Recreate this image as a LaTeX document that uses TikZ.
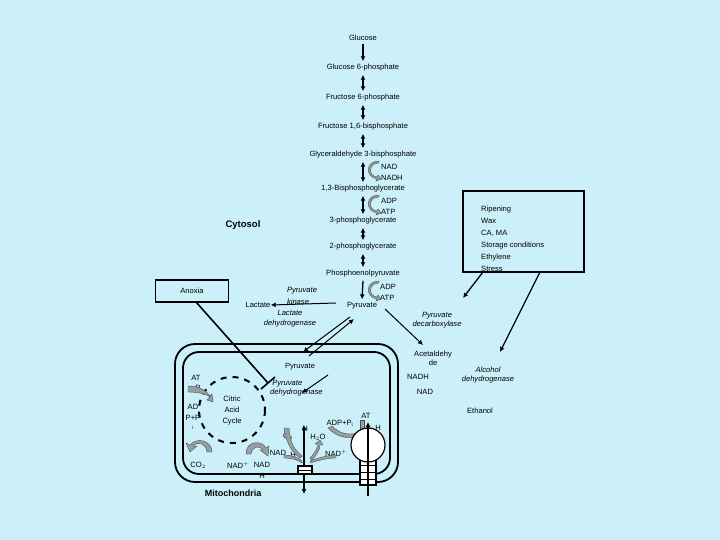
\documentclass[tikz,border=0pt]{standalone}
\usepackage{fontspec}
\setmainfont{Liberation Sans}
\usetikzlibrary{arrows.meta,calc}
\definecolor{bg}{RGB}{204,240,250}
\definecolor{ga}{RGB}{150,160,160}
\begin{document}
\begin{tikzpicture}[x=1pt,y=-1pt,
  t/.style={font=\fontsize{7.6}{8.6}\selectfont,inner sep=0pt},
  ti/.style={t,font=\fontsize{7.6}{8.6}\selectfont\itshape},
  sa/.style={-{Latex[length=5pt,width=5pt]},line width=1.3pt},
  da/.style={{Latex[length=5pt,width=5pt]}-{Latex[length=5pt,width=5pt]},line width=1.3pt},
  ln/.style={line width=1.6pt},
  gar/.style={draw=black!70,fill=ga,line width=0.4pt}]
\useasboundingbox (0,0) rectangle (720,540);
\fill[bg] (0,0) rectangle (720,540);
% glycolysis
\node[t] (g1) at (363,38) {Glucose};
\node[t] (g2) at (363,68) {Glucose 6-phosphate};
\node[t] (g3) at (363,98) {Fructose 6-phosphate};
\node[t] (g4) at (363,127) {Fructose 1,6-bisphosphate};
\node[t] (g5) at (363,155) {Glyceraldehyde 3-bisphosphate};
\node[t] (g6) at (363,189) {1,3-Bisphosphoglycerate};
\node[t] (g7) at (363,221) {3-phosphoglycerate};
\node[t] (g8) at (363,247) {2-phosphoglycerate};
\node[t] (g9) at (363,274) {Phosphoenolpyruvate};
\node[t] (pyr) at (362,306) {Pyruvate};
\draw[sa] ([yshift=-3pt]g1.south) -- ([yshift=3pt]g2.north);
\foreach \a/\b in {g2/g3,g3/g4,g4/g5,g5/g6,g6/g7,g7/g8,g8/g9}
  \draw[da] ([yshift=-3pt]\a.south) -- ([yshift=3pt]\b.north);
\draw[sa] ([yshift=-3pt]g9.south) -- ([yshift=3pt]pyr.north);
% side cofactors
\node[t,anchor=west] (nad) at (381,167) {NAD};
\node[t,anchor=west] (nadh) at (381,178) {NADH};
\node[t,anchor=west] (adp1) at (381,201) {ADP};
\node[t,anchor=west] (atp1) at (381,212) {ATP};
\node[t,anchor=west] (adp2) at (380,287) {ADP};
\node[t,anchor=west] (atp2) at (380,298) {ATP};
\foreach \y in {167,201,287}{
 \draw[gar] (379,\y-4) .. controls (368,\y-4) and (368,\y+9) .. (377,\y+10) -- (378,\y+8) -- (381,\y+12) -- (376,\y+14) -- (377,\y+12)
   .. controls (365,\y+10) and (365,\y-6) .. (379,\y-6) -- cycle;}
\node[t,font=\fontsize{9.5}{10}\selectfont\bfseries] (cyt) at (243,225) {Cytosol};
% lactate
\node[t] (lac) at (258,305) {Lactate};
\draw[sa,line width=1pt] (336,303) -- (lac.east);
\node[ti] (pk1) at (302,291) {Pyruvate};
\node[ti] (pk2) at (298,302) {kinase};
\node[ti] (ld1) at (290,313) {Lactate};
\node[ti] (ld2) at (290,324) {dehydrogenase};
% anoxia
\node[t,draw,ln,minimum width=73pt,minimum height=22pt] (anox) at (192,291) {Anoxia};
\coordinate (tb) at (268,383);
\draw[ln] (196,302) -- (tb);
\draw[ln] ($(tb)+(-7,6)$) -- ($(tb)+(7,-6)$);
% ripening box
\node[draw,ln,minimum width=121pt,minimum height=81pt] (rip) at (523.5,231.5) {};
\node[t,anchor=west,align=left,font=\fontsize{7.6}{12}\selectfont] at (481,239) {Ripening\\Wax\\CA, MA\\Storage conditions\\Ethylene\\Stress};
\coordinate (r1) at (463,298);
\coordinate (r2) at (500,352);
\draw[sa] (483,272) -- (r1);
\draw[sa] (540,272) -- (r2);
% pyruvate decarboxylase
\node[t,align=center] (acet) at (433,358) {Acetaldehy\\de};
\draw[sa,line width=1pt] (385,309) -- (423,345);
\node[ti,align=center] (pdc) at (437,320) {Pyruvate\\decarboxylase};
\node[t] (nadh2) at (418,377) {NADH};
\node[t] (nad2) at (425,392) {NAD};
\node[ti,align=center] (adh) at (488,375) {Alcohol\\dehydrogenase};
\node[t] (eth) at (480,411) {Ethanol};
% transport double arrow
\coordinate (p1) at (352,318);
\coordinate (p2) at (304,354);
\draw[sa,line width=1pt] ($(p2)+(5,2)$) -- ($(p1)+(2,1)$);
\draw[sa,line width=1pt] ($(p1)+(-2,-1)$) -- ($(p2)+(-1,-2)$);
% mitochondria
\draw[line width=1.8pt,rounded corners=20pt] (175,344) rectangle (398,482);
\draw[line width=1.8pt,rounded corners=16pt] (183,352) rectangle (390,474);
\node[t,font=\fontsize{9}{10}\selectfont\bfseries] (mito) at (233,493) {Mitochondria};
\node[t] (pyr2) at (300,367) {Pyruvate};
\node[ti,align=left,anchor=west] (pdh) at (270,388) {\ Pyruvate\\dehydrogenase};
\draw[sa,line width=1pt] (328,375) -- (302,393);
\draw[line width=2pt,dash pattern=on 6pt off 6pt] (232,410) circle (33);
\node[t,align=center,font=\fontsize{7.6}{11}\selectfont] (cac) at (232,411) {Citric\\Acid\\Cycle};
\node[t] at (196,378) {AT};
\node[t] at (198,388) {P};
\node[t] at (193,407) {AD};
\node[t] at (193,418) {P+P};
\node[t,font=\fontsize{5}{6}\selectfont] at (193,428) {i};
\node[t] at (198,465) {CO$_2$};
\node[t] at (238,465) {NAD$^+$};
\node[t] at (262,465) {NAD};
\node[t] at (262,476) {H};
\node[t] at (288,436) {O$_2$};
\node[t] at (305,429) {H};
\node[t] at (318,437) {H$_2$O};
\node[t] at (340,423) {ADP+P$_{\rm i}$};
\node[t] at (366,416) {AT};
\node[t] at (378,428) {H};
\node[t] at (278,453) {NAD};
\node[t] at (293,455) {H};
\node[t] at (336,453) {NAD$^+$};
% gray arrows
\draw[gar] (188,392) .. controls (200,392) and (208,395) .. (210,397) -- (207,400) -- (213,402) -- (212,394) -- (210,396) .. controls (206,390) and (198,386) .. (188,386) -- cycle;
\draw[gar] (212,452) .. controls (212,440) and (196,437) .. (190,445) -- (186,443) -- (190,452) -- (197,446) -- (193,446) .. controls (198,441) and (206,443) .. (207,452) -- cycle;
\draw[gar] (246,454) .. controls (246,440) and (262,440) .. (266,448) -- (269,446) -- (268,456) -- (260,450) -- (263,450) .. controls (260,445) and (252,446) .. (251,454) -- cycle;
\draw[gar] (284,428) .. controls (286,445) and (295,455) .. (300,458) -- (302,456) .. controls (292,448) and (290,440) .. (289,428) -- cycle;
\draw[gar] (284,458) .. controls (292,458) and (298,460) .. (302,463) -- (302,461) .. controls (298,457) and (290,455) .. (284,455) -- cycle;
\draw[gar] (310,458) .. controls (316,452) and (318,446) .. (318,444) -- (315,444) -- (320,440) -- (323,445) -- (320,445) .. controls (320,450) and (316,456) .. (312,460) -- cycle;
\draw[gar] (310,463) .. controls (320,460) and (328,458) .. (336,458) -- (336,455) .. controls (328,455) and (318,458) .. (310,461) -- cycle;
\draw[gar] (328,428) .. controls (336,436) and (346,440) .. (358,436) -- (358,433) .. controls (346,436) and (338,432) .. (332,426) -- cycle;
\draw[gar] (360,430) -- (360,420) -- (364,420) -- (364,430) -- cycle;
% ETC
\draw[line width=1.2pt,{Latex[length=5pt,width=5pt]}-{Latex[length=5pt,width=5pt]}] (304,425) -- (304,494);
\draw[line width=1.2pt,fill=white] (298,466) rectangle (312,474);
\draw[line width=0.8pt] (298,470) -- (312,470);
% ATP synthase
\draw[line width=1.2pt,fill=white] (360,459) rectangle (376,485);
\foreach \y in {465,472,479} \draw[line width=0.8pt] (360,\y) -- (376,\y);
\draw[line width=1.2pt,fill=white] (368,445) circle (17);
\draw[line width=1.2pt,-{Latex[length=5pt,width=5pt]}] (368,496) -- (368,422);
\end{tikzpicture}
\end{document}
